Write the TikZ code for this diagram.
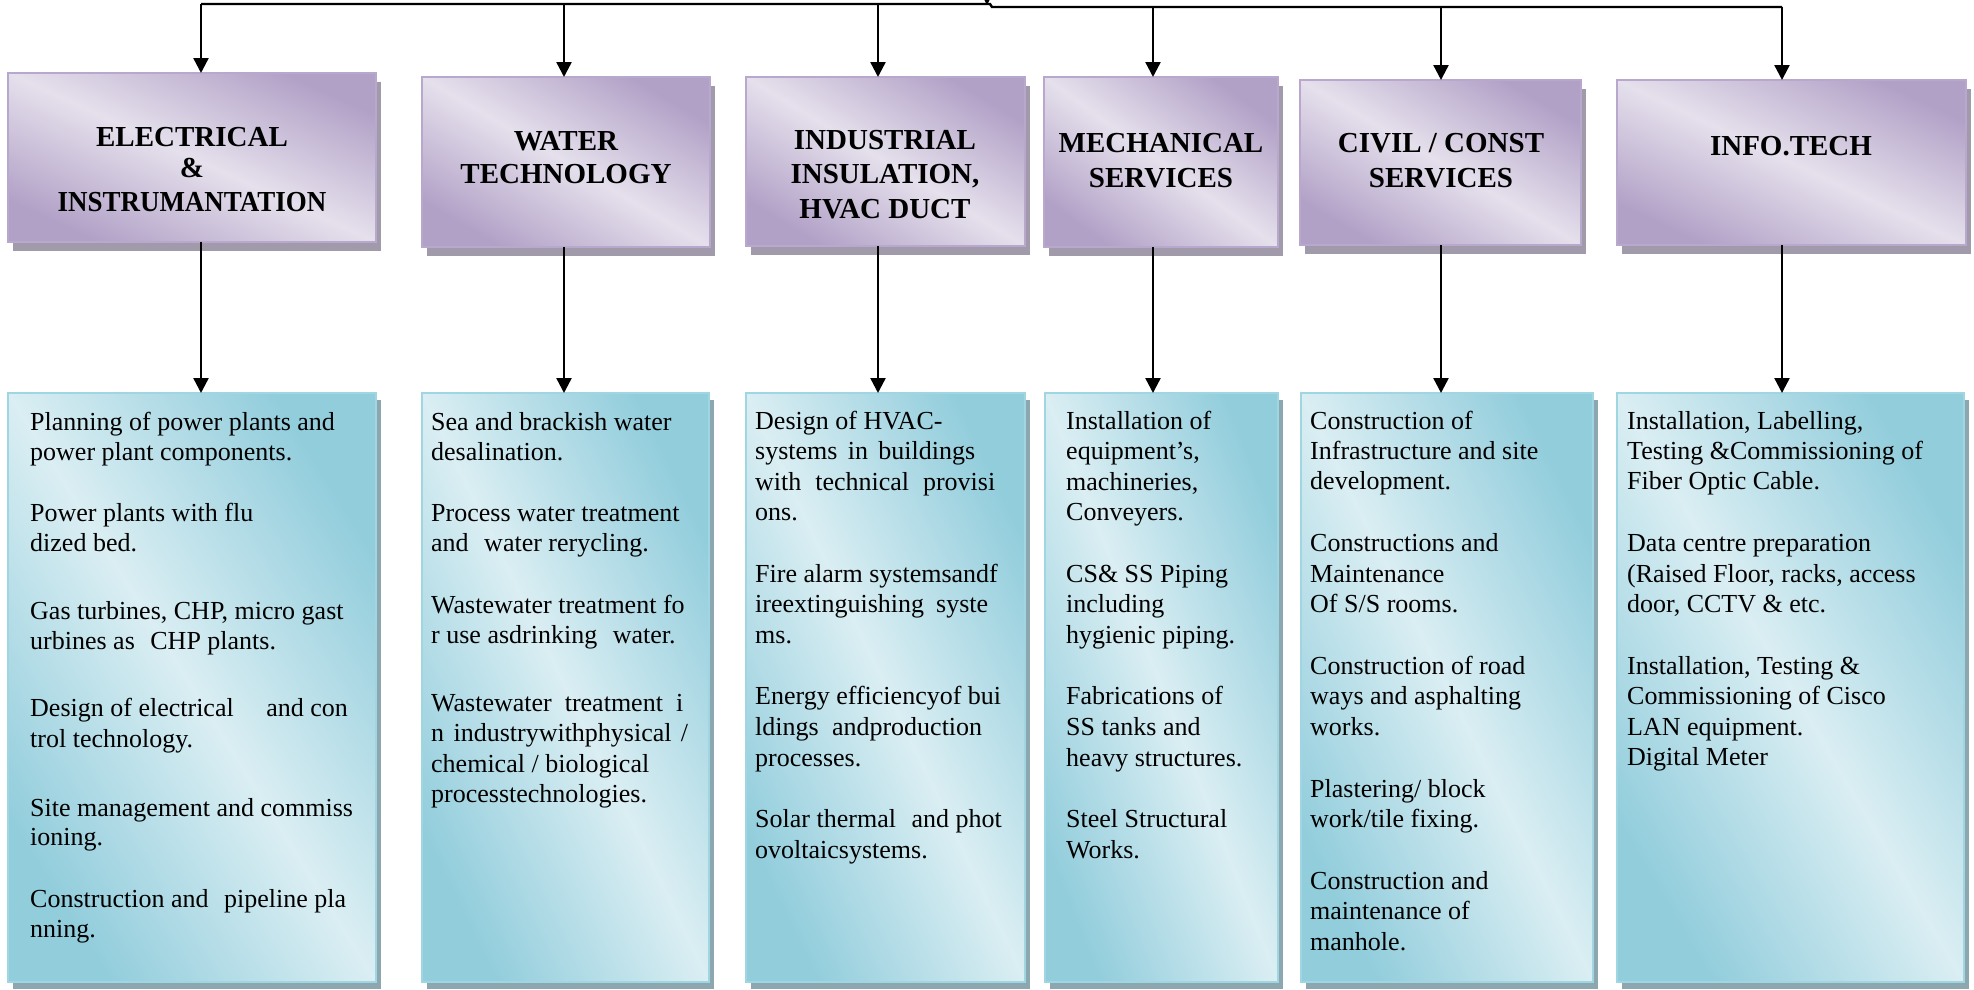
\documentclass[tikz,border=0pt]{standalone}
\usepackage{fontspec}
\usepackage{graphicx}
\setmainfont{Liberation Serif}
\usetikzlibrary{arrows.meta,shadows}

\definecolor{hdark}{RGB}{178,161,199}
\definecolor{hlight}{RGB}{229,224,236}
\definecolor{hborder}{RGB}{184,168,206}
\definecolor{hshadow}{RGB}{160,154,170}
\definecolor{ddark}{RGB}{146,205,220}
\definecolor{dlight}{RGB}{218,238,243}
\definecolor{dborder}{RGB}{160,213,226}
\definecolor{dshadow}{RGB}{140,167,175}

% justified line of a given width
\newcommand{\jline}[2]{\makebox[#1][s]{#2}}

\begin{document}
\begin{tikzpicture}[x=1pt,y=-1pt,
  boxbase/.style={inner sep=0pt, outer sep=0pt, anchor=north west, line width=2.5pt},
  headbox/.style={boxbase, draw=hborder,
    top color=hdark, bottom color=hdark, middle color=hlight, shading angle=#1,
    drop shadow={shadow xshift=5pt, shadow yshift=-9pt, fill=hshadow, opacity=1}},
  detailbox/.style={boxbase, draw=dborder,
    top color=ddark, bottom color=ddark, middle color=dlight, shading angle=#1,
    drop shadow={shadow xshift=5pt, shadow yshift=-7pt, fill=dshadow, opacity=1}},
  htext/.style={font=\fontsize{29}{33}\selectfont\bfseries, anchor=base, inner sep=0pt},
  btext/.style={font=\fontsize{26}{30}\selectfont, anchor=base west, inner sep=0pt},
  bus/.style={line width=2.4pt},
  arr/.style={line width=2.4pt, -{Triangle[width=15pt,length=15pt]}}
]
\useasboundingbox (0,0) rectangle (1974,989);

% ---- department boxes (light band runs corner to corner) ----
\node[headbox=-24.7, minimum width=368pt, minimum height=169pt] (h1) at (8,73) {};
\node[headbox=-30.6, minimum width=288pt, minimum height=170pt] (h2) at (422,77) {};
\node[headbox=-31.2, minimum width=279pt, minimum height=169pt] (h3) at (746,77) {};
\node[headbox=-36.0, minimum width=234pt, minimum height=170pt] (h4) at (1044,77) {};
\node[headbox=-30.4, minimum width=281pt, minimum height=165pt] (h5) at (1300,80) {};
\node[headbox=-25.3, minimum width=349pt, minimum height=165pt] (h6) at (1617,80) {};

% ---- service lists ----
\node[detailbox=-58.0, minimum width=368pt, minimum height=589pt] (d1) at (8,393) {};
\node[detailbox=-64.0, minimum width=287pt, minimum height=589pt] (d2) at (422,393) {};
\node[detailbox=-64.6, minimum width=279pt, minimum height=589pt] (d3) at (746,393) {};
\node[detailbox=-68.4, minimum width=233pt, minimum height=589pt] (d4) at (1045,393) {};
\node[detailbox=-63.6, minimum width=292pt, minimum height=589pt] (d5) at (1301,393) {};
\node[detailbox=-59.5, minimum width=347pt, minimum height=589pt] (d6) at (1617,393) {};

% ---- department titles ----
\node[htext] (h1t1) at (192,146) {ELECTRICAL};
\node[htext] (h1t2) at (192,177) {\&};
\node[htext] (h1t3) at (192,211) {\scalebox{0.93}[1]{INSTRUMANTATION}};
\node[htext] (h2t1) at (566,150) {WATER};
\node[htext] (h2t2) at (566,183) {TECHNOLOGY};
\node[htext] (h3t1) at (885,149) {INDUSTRIAL};
\node[htext] (h3t2) at (885,183) {INSULATION,};
\node[htext] (h3t3) at (885,218) {HVAC DUCT};
\node[htext] (h4t1) at (1161,152) {MECHANICAL};
\node[htext] (h4t2) at (1161,187) {SERVICES};
\node[htext] (h5t1) at (1441,152) {CIVIL / CONST};
\node[htext] (h5t2) at (1441,187) {SERVICES};
\node[htext] (h6t1) at (1791,155) {INFO.TECH};

% ---- service texts ----
\foreach \yy/\txt [count=\k] in {
  430/{Planning of power plants and},
  460/{power plant components.},
  521/{Power plants with flu},
  551/{dized bed.},
  619/{Gas turbines, CHP, micro gast},
  649/{urbines as\hspace{9pt} CHP plants.},
  716/{Design of electrical\hspace{26pt} and con},
  747/{trol technology.},
  816/{Site management and commiss},
  845/{ioning.},
  907/{Construction and\hspace{9pt} pipeline pla},
  937/{nning.}}
  \node[btext] (e\k) at (30,\yy) {\txt};

\foreach \yy/\txt [count=\k] in {
  430/{Sea and brackish water},
  460/{desalination.},
  521/{Process water treatment},
  551/{and\hspace{9pt} water rerycling.},
  613/{Wastewater treatment fo},
  643/{r use asdrinking\hspace{9pt} water.},
  711/{\jline{252pt}{Wastewater treatment i}},
  741/{\jline{257pt}{n industrywithphysical /}},
  772/{chemical / biological},
  802/{processtechnologies.}}
  \node[btext] (w\k) at (431,\yy) {\txt};

\foreach \yy/\txt [count=\k] in {
  429/{Design of HVAC-},
  459/{\jline{220pt}{systems in buildings}},
  490/{\jline{240pt}{with technical provisi}},
  520/{ons.},
  582/{Fire alarm systemsandf},
  612/{\jline{233pt}{ireextinguishing syste}},
  643/{ms.},
  704/{Energy efficiencyof bui},
  735/{\jline{227pt}{ldings andproduction}},
  766/{processes.},
  827/{Solar thermal\hspace{9pt} and phot},
  858/{ovoltaicsystems.}}
  \node[btext] (n\k) at (755,\yy) {\txt};

\foreach \yy/\txt [count=\k] in {
  429/{Installation of},
  459/{equipment’s,},
  490/{machineries,},
  520/{Conveyers.},
  582/{CS\& SS Piping},
  612/{including},
  643/{hygienic piping.},
  704/{Fabrications of},
  735/{SS tanks and},
  766/{heavy structures.},
  827/{Steel Structural},
  858/{Works.}}
  \node[btext] (m\k) at (1066,\yy) {\txt};

\foreach \yy/\txt [count=\k] in {
  429/{Construction of},
  459/{Infrastructure and site},
  489/{development.},
  551/{Constructions and},
  582/{Maintenance},
  612/{Of S/S rooms.},
  674/{Construction of road},
  704/{ways and asphalting},
  735/{works.},
  797/{Plastering/ block},
  827/{work/tile fixing.},
  889/{Construction and},
  919/{maintenance of},
  950/{manhole.}}
  \node[btext] (c\k) at (1310,\yy) {\txt};

\foreach \yy/\txt [count=\k] in {
  429/{Installation, Labelling,},
  459/{Testing \&Commissioning of},
  489/{Fiber Optic Cable.},
  551/{Data centre preparation},
  582/{(Raised Floor, racks, access},
  612/{door, CCTV \& etc.},
  674/{Installation, Testing \&},
  704/{Commissioning of Cisco},
  735/{LAN equipment.},
  765/{Digital Meter}}
  \node[btext] (i\k) at (1627,\yy) {\txt};

% ---- distribution bus ----
\coordinate (t1) at (201,4);
\coordinate (t2) at (564,4);
\coordinate (bj) at (990,4);
\coordinate (bk) at (992,7);
\coordinate (t3) at (878,4);
\coordinate (t4) at (1153,7);
\coordinate (t5) at (1441,7);
\coordinate (t6) at (1782,7);
\coordinate (up) at (987,-14);
\coordinate (upend) at (987,5);
\draw[bus] (t1) -- (bj) -- (bk) -- (t6);
\draw[arr] (up) -- (upend);

% ---- arrows into the departments ----
\draw[arr] (t1) -- (t1 |- h1.north);
\draw[arr] (t2) -- (t2 |- h2.north);
\draw[arr] (t3) -- (t3 |- h3.north);
\draw[arr] (t4) -- (t4 |- h4.north);
\draw[arr] (t5) -- (t5 |- h5.north);
\draw[arr] (t6) -- (t6 |- h6.north);

% ---- arrows into the service lists ----
\draw[arr] (t1 |- h1.south) -- (t1 |- d1.north);
\draw[arr] (t2 |- h2.south) -- (t2 |- d2.north);
\draw[arr] (t3 |- h3.south) -- (t3 |- d3.north);
\draw[arr] (t4 |- h4.south) -- (t4 |- d4.north);
\draw[arr] (t5 |- h5.south) -- (t5 |- d5.north);
\draw[arr] (t6 |- h6.south) -- (t6 |- d6.north);
\end{tikzpicture}
\end{document}
